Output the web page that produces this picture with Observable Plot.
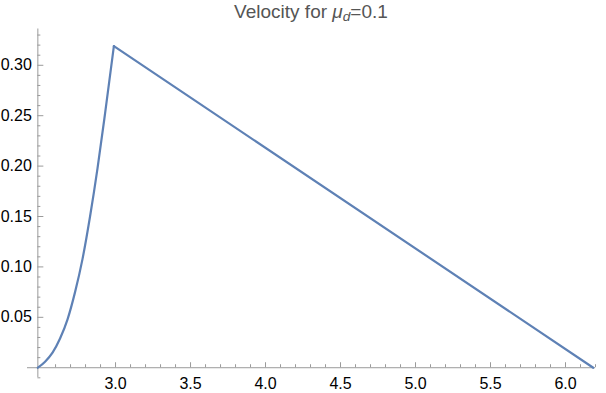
<!DOCTYPE html>
<html><head><meta charset="utf-8">
<script src="https://cdn.jsdelivr.net/npm/d3@7"></script>
<script src="https://cdn.jsdelivr.net/npm/@observablehq/plot@0.6"></script>
<style>
body{margin:0;background:#fff;}
#wrap{position:relative;width:606px;height:393px;}
#title{position:absolute;left:27px;width:568px;top:1px;text-align:center;font:19px "Liberation Sans",Arial,sans-serif;color:#555;line-height:22px;}
#title sub{font-size:0.72em;vertical-align:-0.2em;line-height:0;}
svg text{font-size:16px;}
</style></head><body>
<div id="wrap"><div id="title">Velocity for <i>μ</i><sub><i>d</i></sub>=0.1</div></div>
<script>
// rising (accelerating) phase
const riseT = [2.482, 2.53, 2.58, 2.63, 2.68, 2.73, 2.78, 2.83, 2.88, 2.93, 2.989];
const riseV = [0, 0.006, 0.015, 0.029, 0.048, 0.075, 0.108, 0.150, 0.198, 0.252, 0.319];
// sliding (decelerating) phase
const fallT = [2.989, 6.185];
const fallV = [0.319, 0];

const xMajor = [3.0, 3.5, 4.0, 4.5, 5.0, 5.5, 6.0];
const xMinor = [2.6, 2.7, 2.8, 2.9, 3.1, 3.2, 3.3, 3.4, 3.6, 3.7, 3.8, 3.9, 4.1, 4.2, 4.3, 4.4, 4.6, 4.7, 4.8, 4.9, 5.1, 5.2, 5.3, 5.4, 5.6, 5.7, 5.8, 5.9, 6.1, 6.2];
const yMajor = [0.05, 0.10, 0.15, 0.20, 0.25, 0.30];
const yMinor = [-0.01, 0.01, 0.02, 0.03, 0.04, 0.06, 0.07, 0.08, 0.09, 0.11, 0.12, 0.13, 0.14, 0.16, 0.17, 0.18, 0.19, 0.21, 0.22, 0.23, 0.24, 0.26, 0.27, 0.28, 0.29, 0.31, 0.32, 0.33];
const xOrigin = 2.482, yOrigin = 0;
const xDomain = [2.413, 6.2], yDomain = [-0.0097, 0.336];

const rise = riseT.map((t, i) => ({t, v: riseV[i]}));
const fall = fallT.map((t, i) => ({t, v: fallV[i]}));
const axisColor = "#9a9a9a";
const lineColor = "#5E81B5";

const chart = Plot.plot({
  width: 606, height: 393,
  marginLeft: 27, marginRight: 11, marginTop: 28.5, marginBottom: 16,
  x: {domain: xDomain, axis: null},
  y: {domain: yDomain, axis: null},
  style: {fontFamily: "'Liberation Sans', Arial, sans-serif", fontSize: "16px", background: "#fff", overflow: "visible"},
  marks: [
    Plot.ruleY([yOrigin], {y: d => d, stroke: axisColor, strokeWidth: 1}),
    Plot.ruleX([xOrigin], {x: d => d, stroke: axisColor, strokeWidth: 1}),
    Plot.ruleX(xMinor, {x: d => d, y1: d => yOrigin, y2: d => yOrigin, insetTop: -3, stroke: axisColor}),
    Plot.ruleX(xMajor, {x: d => d, y1: d => yOrigin, y2: d => yOrigin, insetTop: -5, stroke: axisColor}),
    Plot.ruleY(yMinor, {y: d => d, x1: d => xOrigin, x2: d => xOrigin, insetRight: -3, stroke: axisColor}),
    Plot.ruleY(yMajor, {y: d => d, x1: d => xOrigin, x2: d => xOrigin, insetRight: -6, stroke: axisColor}),
    Plot.text(xMajor, {x: d => d, y: d => yOrigin, dy: 16, text: d => d.toFixed(1), fill: "#000", fontSize: 16}),
    Plot.text(yMajor, {x: d => xOrigin, y: d => d, dx: -6, textAnchor: "end", text: d => d.toFixed(2), fill: "#000", fontSize: 16}),
    Plot.line(rise, {x: "t", y: "v", stroke: lineColor, strokeWidth: 2.2, curve: "monotone-x"}),
    Plot.line(fall, {x: "t", y: "v", stroke: lineColor, strokeWidth: 2.2})
  ]
});
document.getElementById("wrap").prepend(chart);
</script>
</body></html>
